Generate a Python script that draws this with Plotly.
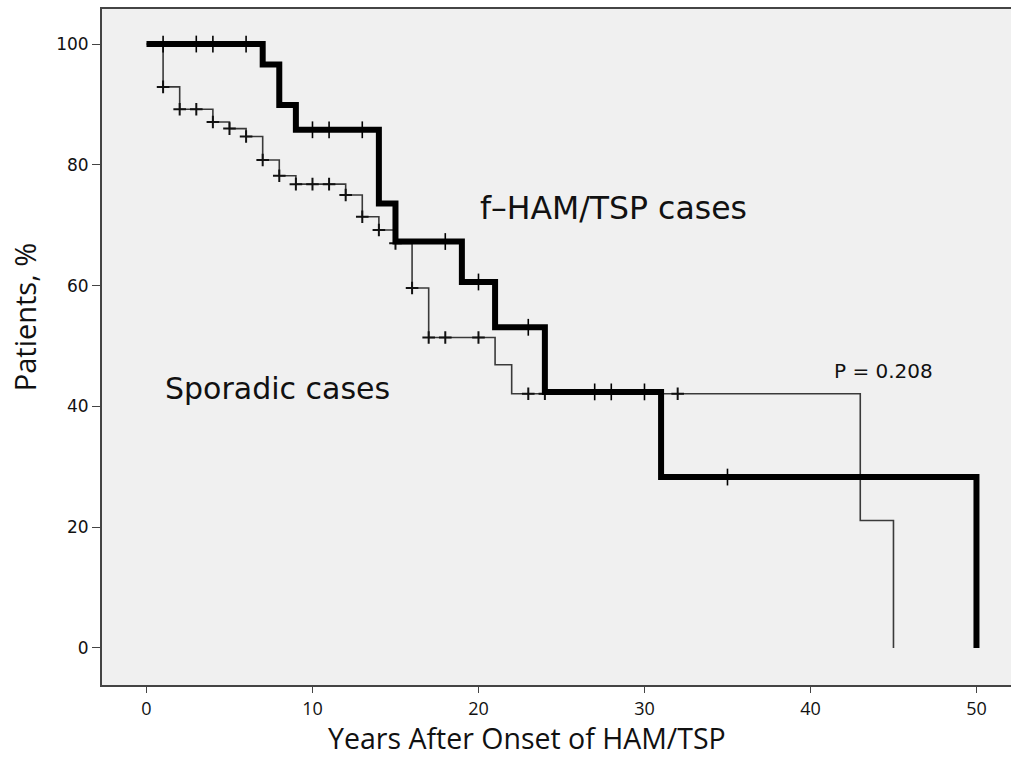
import plotly.graph_objects as go

# Kaplan-Meier step data (years, percent surviving)
fham_times = [0, 7, 8, 9, 14, 15, 19, 21, 24, 31, 50]
fham_surv = [100, 96.6, 89.9, 85.8, 73.6, 67.3, 60.6, 53.1, 42.4, 28.3, 0]
fham_censor = [1, 3, 4, 6, 10, 11, 13, 18, 20, 23, 27, 28, 30, 35]

spor_times = [0, 1, 2, 4, 5, 6, 7, 8, 9, 12, 13, 14, 15, 16, 17, 21, 22, 43, 45]
spor_surv = [100, 92.9, 89.2, 87.1, 86.0, 84.7, 80.8, 78.2, 76.8, 75.0, 71.4,
             69.2, 67.0, 59.6, 51.4, 46.9, 42.1, 21.1, 0]
spor_censor = [1, 2, 3, 4, 5, 6, 7, 8, 9, 10, 11, 12, 13, 14, 15, 16, 17, 18,
               20, 23, 24, 32]

x_ticks = [0, 10, 20, 30, 40, 50]
y_ticks = [0, 20, 40, 60, 80, 100]


def step_value(times, surv, t):
    val = surv[0]
    for tt, s in zip(times, surv):
        if tt <= t:
            val = s
    return val


fham_cy = [step_value(fham_times, fham_surv, t) for t in fham_censor]
spor_cy = [step_value(spor_times, spor_surv, t) for t in spor_censor]

fig = go.Figure()
fig.add_trace(go.Scatter(x=spor_times, y=spor_surv, mode="lines",
                         line=dict(shape="hv", color="#3a3a3a", width=1.6),
                         showlegend=False, hoverinfo="skip"))
fig.add_trace(go.Scatter(x=spor_censor, y=spor_cy, mode="markers",
                         marker=dict(symbol="cross-thin", size=9,
                                     line=dict(color="#111", width=2)),
                         showlegend=False))
fig.add_trace(go.Scatter(x=fham_times, y=fham_surv, mode="lines",
                         line=dict(shape="hv", color="#000", width=6),
                         showlegend=False, hoverinfo="skip"))
fig.add_trace(go.Scatter(x=fham_censor, y=fham_cy, mode="markers",
                         marker=dict(symbol="line-ns", size=12,
                                     line=dict(color="#000", width=1.6)),
                         showlegend=False))

fig.add_annotation(x=20.0, y=72.8, xref="x", yref="y", text="f–HAM/TSP cases",
                   showarrow=False, xanchor="left", yanchor="middle",
                   font=dict(family="DejaVu Sans", size=31.5, color="#111"))
fig.add_annotation(x=1.0, y=43.0, xref="x", yref="y", text="Sporadic cases",
                   showarrow=False, xanchor="left", yanchor="middle",
                   font=dict(family="DejaVu Sans", size=30, color="#111"))
fig.add_annotation(x=41.3, y=45.9, xref="x", yref="y", text="P = 0.208",
                   showarrow=False, xanchor="left", yanchor="middle",
                   font=dict(family="DejaVu Sans", size=20, color="#111"))

# axis titles as annotations for exact placement
fig.add_annotation(x=0.4675, y=-0.0785, xref="paper", yref="paper",
                   text="Years After Onset of HAM/TSP", showarrow=False,
                   xanchor="center", yanchor="middle",
                   font=dict(family="Open Sans", size=28.5, color="#111"))
fig.add_annotation(x=-0.0858, y=0.544, xref="paper", yref="paper",
                   text="Patients, %", showarrow=False, textangle=-90,
                   xanchor="center", yanchor="middle",
                   font=dict(family="Open Sans", size=29, color="#111"))

fig.update_layout(
    width=1011, height=758,
    margin=dict(l=102, r=0, t=9, b=73),
    paper_bgcolor="white", plot_bgcolor="#f0f0f0",
    xaxis=dict(range=[-2.68, 52.08], tickvals=x_ticks, showgrid=False,
               zeroline=False, showline=True, linecolor="#444", linewidth=2,
               mirror=True, ticks="outside", ticklen=6, tickcolor="#444",
               tickfont=dict(family="Liberation Sans Narrow, Open Sans", size=18, color="#111")),
    yaxis=dict(range=[-6.13, 105.8], tickvals=y_ticks, showgrid=False,
               zeroline=False, showline=True, linecolor="#444", linewidth=2,
               ticks="outside", ticklen=8, tickcolor="#444",
               tickfont=dict(family="DejaVu Sans", size=17, color="#111")),
)

fig.write_html("out.html", config={"displayModeBar": False},
               post_script="document.body.style.margin='0';document.body.style.overflow='hidden';")
